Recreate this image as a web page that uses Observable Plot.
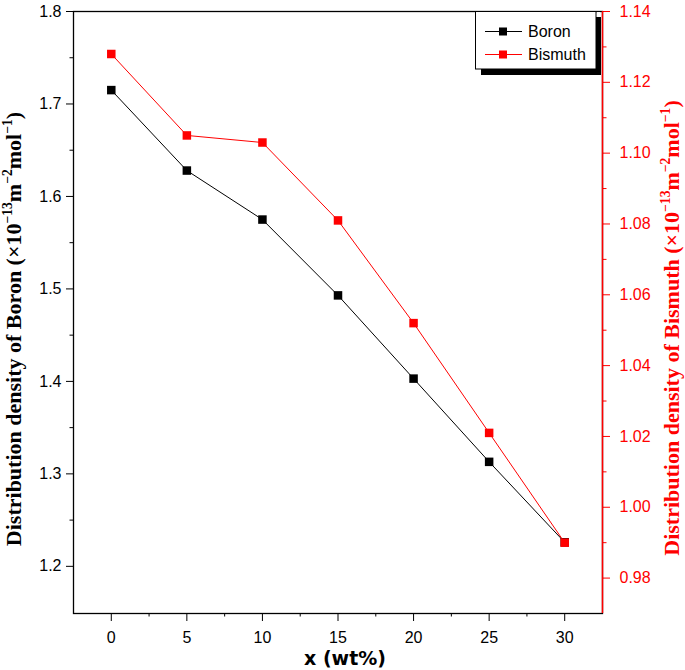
<!DOCTYPE html>
<html><head><meta charset="utf-8">
<script src="https://cdn.jsdelivr.net/npm/d3@7"></script>
<script src="https://cdn.jsdelivr.net/npm/@observablehq/plot@0.6"></script>
<style>body{margin:0;background:#fff} svg{display:block}</style>
</head><body><div id="chart"></div>
<script>
const xValues = [0, 5, 10, 15, 20, 25, 30];
const boron = [1.715, 1.628, 1.575, 1.493, 1.403, 1.313, 1.226];
const bismuth = [1.128, 1.105, 1.103, 1.081, 1.052, 1.021, 0.990];
const xTicks = [0, 5, 10, 15, 20, 25, 30];
const xMinor = [2.5, 7.5, 12.5, 17.5, 22.5, 27.5];
const leftTicks = [1.2, 1.3, 1.4, 1.5, 1.6, 1.7, 1.8];
const leftMinor = [1.25, 1.35, 1.45, 1.55, 1.65, 1.75];
const rightTicks = [0.98, 1.00, 1.02, 1.04, 1.06, 1.08, 1.10, 1.12, 1.14];
const rightMinor = [0.99, 1.01, 1.03, 1.05, 1.07, 1.09, 1.11, 1.13];
const seriesNames = ["Boron", "Bismuth"];
const seriesColors = ["black", "red"];

const L = [1.149, 1.8], R = [0.970, 1.14];
const toL = v => L[0] + (v - R[0]) * (L[1] - L[0]) / (R[1] - R[0]);
const fromL = v => R[0] + (v - L[0]) * (R[1] - R[0]) / (L[1] - L[0]);

const data = xValues.map((x, i) => ({x, boron: boron[i], bi: toL(bismuth[i])}));

const W = 685, H = 670, mL = 73, mR = 83, mT = 11, mB = 57;
const svg = Plot.plot({
  width: W, height: H, marginLeft: mL, marginRight: mR, marginTop: mT, marginBottom: mB,
  x: {domain: [-2.5, 32.5]},
  y: {domain: L},
  style: {fontFamily: "'Liberation Sans', Arial, sans-serif", fontSize: "16px", background: "white", color: "black"},
  marks: [
    Plot.axisX({ticks: xTicks, tickSize: 8, tickPadding: 10, label: null, tickFormat: d => String(d), fontSize: 16}),
    Plot.axisX({ticks: xMinor, tickSize: 3.5, tickFormat: () => "", label: null}),
    Plot.axisY({ticks: leftTicks, tickSize: 7, tickPadding: 5, tickFormat: d => d.toFixed(1), label: null, fontSize: 16}),
    Plot.axisY({ticks: leftMinor, tickSize: 3.5, tickFormat: () => "", label: null}),
    Plot.axisY({anchor: "right", ticks: rightTicks.map(toL), tickSize: 7, tickPadding: 10, tickFormat: d => fromL(d).toFixed(2), label: null, color: "red", fontSize: 16}),
    Plot.axisY({anchor: "right", ticks: rightMinor.map(toL), tickSize: 3.5, tickFormat: () => "", label: null, color: "red"}),
    Plot.frame({stroke: "black", strokeWidth: 1.3}),
    Plot.ruleX([32.5], {stroke: "red", strokeWidth: 1.5}),
    Plot.line(data, {x: "x", y: "boron", stroke: seriesColors[0], strokeWidth: 1}),
    Plot.dot(data, {x: "x", y: "boron", symbol: "square", r: 4.8, fill: seriesColors[0], stroke: "none"}),
    Plot.line(data, {x: "x", y: "bi", stroke: seriesColors[1], strokeWidth: 1}),
    Plot.dot(data, {x: "x", y: "bi", symbol: "square", r: 4.8, fill: seriesColors[1], stroke: "none"})
  ]
});
document.getElementById("chart").appendChild(svg);

const s = d3.select(svg);
// axis titles
function title(x, y, rot, color, parts, size) {
  const t = s.append("text")
    .attr("transform", `translate(${x},${y}) rotate(${rot})`)
    .attr("text-anchor", "middle")
    .style("text-anchor", "middle")
    .style("fill", color)
    .style("font-family", "'Liberation Serif', 'Times New Roman', serif")
    .style("font-weight", "bold")
    .style("font-size", size + "px");
  let up = false;
  parts.forEach(([txt, sup]) => {
    const ts = t.append("tspan").text(txt);
    if (sup && !up) { ts.attr("dy", -size * 0.42).style("font-size", (size * 0.62) + "px"); up = true; }
    else if (!sup && up) { ts.attr("dy", size * 0.42); up = false; }
    else if (sup) ts.style("font-size", (size * 0.62) + "px");
  });
}
const unitParts = who => [[`Distribution density of ${who} (×10`], ["−13", 1], ["m"], ["−2", 1], ["mol"], ["−1", 1], [")"]];
title(21, 329, -90, "black", unitParts(seriesNames[0]), 22);
title(679, 328, -90, "red", unitParts(seriesNames[1]), 22);

s.append("text").attr("x", 345).attr("y", 665)
  .style("text-anchor", "middle").style("fill", "black")
  .style("font-family", "'DejaVu Sans', Verdana, sans-serif").style("font-weight", "bold").style("font-size", "19px")
  .text("x (wt%)");

// legend (drop shadow + box)
const lg = s.append("g").attr("class", "legend-box");
lg.append("rect").attr("x", 481).attr("y", 17).attr("width", 120).attr("height", 58)
  .style("fill", "#000");
lg.append("rect").attr("x", 475.5).attr("y", 11.5).attr("width", 120.5).attr("height", 57.5)
  .style("fill", "#fff").style("stroke", "#000").style("stroke-width", 1);
seriesNames.forEach((n, i) => {
  const y = 31.5 + i * 23;
  lg.append("line").attr("x1", 485).attr("x2", 522).attr("y1", y).attr("y2", y)
    .style("stroke", seriesColors[i]).style("stroke-width", 1);
  lg.append("rect").attr("x", 499).attr("y", y - 4).attr("width", 8).attr("height", 8)
    .style("fill", seriesColors[i]).style("stroke", "none");
  lg.append("text").attr("x", 528).attr("y", y + 5.5)
    .style("text-anchor", "start").style("fill", "black")
    .style("font-family", "'Liberation Sans', Arial, sans-serif").style("font-size", "16px").text(n);
});
// tiny white notch at top-right of shadow, as in the reference
lg.append("rect").attr("x", 597).attr("y", 12).attr("width", 3).attr("height", 4).style("fill", "#fff");
</script>
</body></html>
